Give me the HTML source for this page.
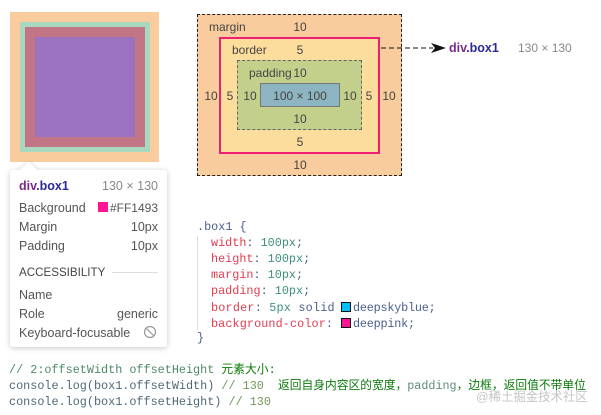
<!DOCTYPE html>
<html><head><meta charset="utf-8"><style>
html,body{margin:0;padding:0;background:#fff}
body{width:601px;height:415px;position:relative;overflow:hidden;font-family:"Liberation Sans","Noto Sans CJK SC",sans-serif;}
.a{position:absolute;box-sizing:border-box}
.t{position:absolute;white-space:pre;line-height:16px;font-size:12px;color:#444}
.c{transform:translateX(-50%)}
.r{transform:translateX(-100%)}
.m{position:absolute;white-space:pre;font-family:"Liberation Mono","Noto Sans CJK SC",monospace;font-size:11.8px;line-height:16px;color:#708}
.k{color:#e03c50}.n{color:#3f8f7c}.d{color:#4a5f8a}.g{color:#4e6a78}
.sw{position:absolute;width:10px;height:10px;border:1px solid #111;box-sizing:border-box}
.tip{font-size:12.5px;color:#555}
.p{color:#7a2a8a}.b{color:#2a2a9a}
</style></head><body>
<div class="a" style="left:10px;top:12px;width:149px;height:150px;background:#f9cc9d"></div>
<div class="a" style="left:20px;top:22px;width:130px;height:130px;background:#a8d8bd"></div>
<div class="a" style="left:25px;top:27px;width:120px;height:120px;background:#c17585"></div>
<div class="a" style="left:35px;top:37px;width:100px;height:100px;background:#9b72bf"></div>

<div class="a" style="left:197px;top:14px;width:205px;height:162px;background:#f9cc9d;border:1px dashed #222"></div>
<div class="a" style="left:219px;top:37px;width:161px;height:117px;background:#fddd9b;border:2.5px solid #ee1f73"></div>
<div class="a" style="left:237px;top:60px;width:125px;height:70px;background:#c3d08b;border:1px dashed #666"></div>
<div class="a" style="left:260px;top:83px;width:80px;height:24px;background:#8cb5c1;border:1px solid #777"></div>

<div class="t" style="left:209px;top:19px">margin</div>
<div class="t c" style="left:300px;top:19px">10</div>
<div class="t" style="left:232px;top:42px">border</div>
<div class="t c" style="left:300px;top:42px">5</div>
<div class="t" style="left:249px;top:65px">padding</div>
<div class="t c" style="left:300px;top:65px">10</div>
<div class="t c" style="left:300px;top:88px">100 × 100</div>
<div class="t c" style="left:211px;top:88px">10</div>
<div class="t c" style="left:230px;top:88px">5</div>
<div class="t c" style="left:250px;top:88px">10</div>
<div class="t c" style="left:350px;top:88px">10</div>
<div class="t c" style="left:369px;top:88px">5</div>
<div class="t c" style="left:389px;top:88px">10</div>
<div class="t c" style="left:300px;top:111px">10</div>
<div class="t c" style="left:300px;top:134px">5</div>
<div class="t c" style="left:300px;top:157px">10</div>

<svg class="a" style="left:375px;top:35px" width="80" height="20">
<line x1="6" y1="13" x2="58" y2="13" stroke="#111" stroke-dasharray="5 3"></line>
<path d="M56 8 L71 13 L56 18 L60 13 Z" fill="#111"></path>
</svg>
<div class="t" style="left:449px;top:40px;font-weight:bold;font-size:12.5px"><span class="p">div</span><span class="b">.box1</span></div>
<div class="t" style="left:518px;top:40px;color:#888">130 × 130</div>

<svg class="a" style="left:4px;top:158px" width="172" height="198">
<defs><filter id="s" x="-10%" y="-10%" width="120%" height="120%"><feDropShadow dx="0" dy="1" stdDeviation="3" flood-color="#000" flood-opacity=".22"></feDropShadow></filter></defs>
<path d="M9 12 H16 L25 4 L33 12 H160 a3 3 0 0 1 3 3 V186 a3 3 0 0 1 -3 3 H9 a3 3 0 0 1 -3 -3 V15 a3 3 0 0 1 3 -3 Z" fill="#fff" filter="url(#s)"></path>
</svg>
<div class="t tip" style="left:19px;top:178px;font-weight:bold"><span class="p">div</span><span class="b">.box1</span></div>
<div class="t tip" style="left:158px;top:178px;color:#888;transform:translateX(-100%)">130 × 130</div>
<div class="t tip" style="left:19px;top:200px">Background</div>
<div class="a" style="left:98px;top:202px;width:10px;height:10px;background:#ff1493"></div>
<div class="t tip r" style="left:158px;top:200px;font-size:12px">#FF1493</div>
<div class="t tip" style="left:19px;top:219px">Margin</div>
<div class="t tip r" style="left:158px;top:219px">10px</div>
<div class="t tip" style="left:19px;top:238px">Padding</div>
<div class="t tip r" style="left:158px;top:238px">10px</div>
<div class="t" style="left:19px;top:265px;font-size:11.6px;color:#444">ACCESSIBILITY</div>
<div class="a" style="left:112px;top:272px;width:46px;height:1px;background:#ddd"></div>
<div class="t tip" style="left:19px;top:287px">Name</div>
<div class="t tip" style="left:19px;top:306px">Role</div>
<div class="t tip r" style="left:158px;top:306px">generic</div>
<div class="t tip" style="left:19px;top:325px">Keyboard-focusable</div>
<svg class="a" style="left:143px;top:325px" width="14" height="14"><circle cx="7" cy="7" r="5.5" fill="none" stroke="#999" stroke-width="1.2"></circle><line x1="3" y1="3" x2="11" y2="11" stroke="#999" stroke-width="1.2"></line></svg>

<div class="m d" style="left:197px;top:219px">.box1 {</div>
<div class="a" style="left:197px;top:236px;width:1px;height:94px;background:#ddd"></div>
<div class="m" style="left:211px;top:235px"><span class="k">width</span><span class="d">:</span> <span class="n">100px</span><span class="d">;</span></div>
<div class="m" style="left:211px;top:251px"><span class="k">height</span><span class="d">:</span> <span class="n">100px</span><span class="d">;</span></div>
<div class="m" style="left:211px;top:267px"><span class="k">margin</span><span class="d">:</span> <span class="n">10px</span><span class="d">;</span></div>
<div class="m" style="left:211px;top:283px"><span class="k">padding</span><span class="d">:</span> <span class="n">10px</span><span class="d">;</span></div>
<div class="m" style="left:211px;top:300px;letter-spacing:.2px"><span class="k">border</span><span class="d">:</span> <span class="n">5px</span> <span class="d">solid</span></div>
<div class="sw" style="left:341px;top:302px;background:#00bfff"></div>
<div class="m d" style="left:353px;top:300px;letter-spacing:-.2px">deepskyblue;</div>
<div class="m" style="left:211px;top:316px;letter-spacing:.1px"><span class="k">background-color</span><span class="d">:</span></div>
<div class="sw" style="left:341px;top:318px;background:#ff1493"></div>
<div class="m d" style="left:353px;top:316px;letter-spacing:-.2px">deeppink;</div>
<div class="m d" style="left:197px;top:330px">}</div>

<div class="m" style="left:9px;top:362px;color:#4e8a6a">// 2:offsetWidth offsetHeight <span style="color:#0a7a0a">元素大小:</span></div>
<div class="m" style="left:9px;top:378px"><span class="g">console.log(box1.offsetWidth)</span> <span style="color:#6f9a5a">// 130</span></div>
<div class="m" style="left:278px;top:378px;color:#0a7a0a;font-size:11.75px">返回自身内容区的宽度，<span style="color:#5f8a7a">padding</span>，边框，返回值不带单位</div>
<div class="m" style="left:9px;top:394px"><span class="g">console.log(box1.offsetHeight)</span> <span style="color:#6f9a5a">// 130</span></div>
<div class="t" style="left:476px;top:389px;font-size:12.4px;color:#bbb;opacity:.85">@稀土掘金技术社区</div>
</body></html>
